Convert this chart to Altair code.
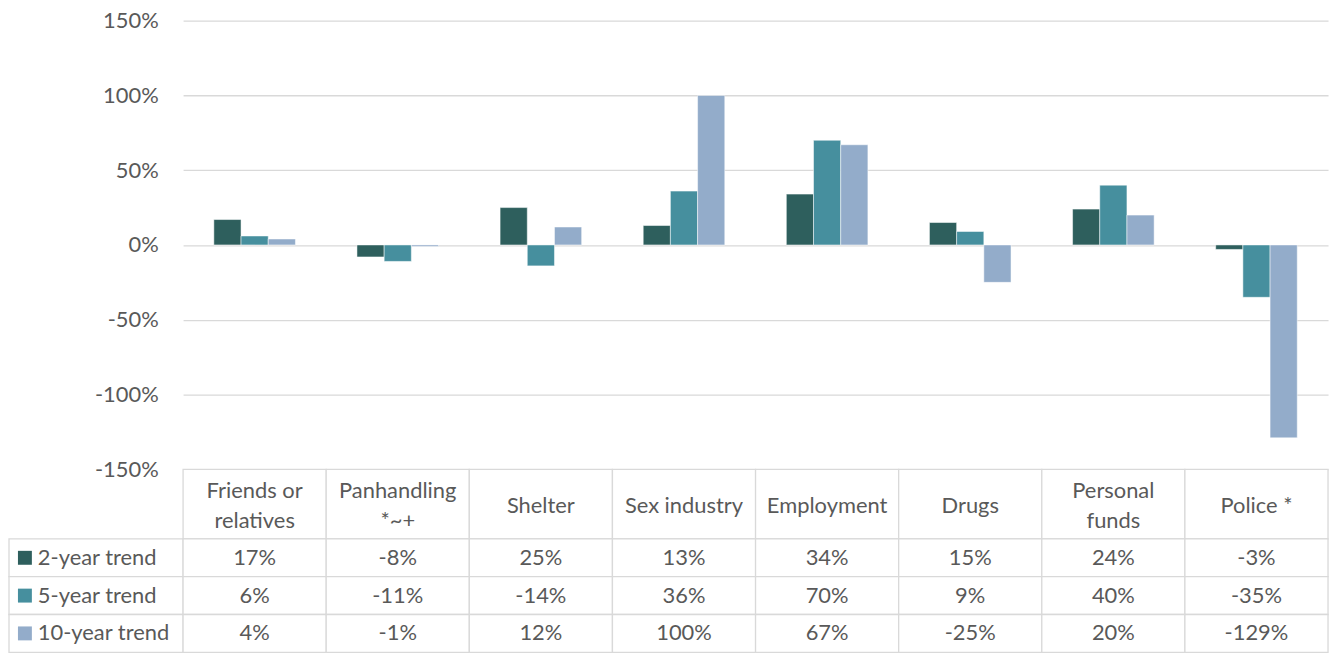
import altair as alt
import pandas as pd

categories = ["Friends or relatives", "Panhandling *~+", "Shelter", "Sex industry",
              "Employment", "Drugs", "Personal funds", "Police *"]
header_labels = ["Friends or\nrelatives", "Panhandling\n*~+", "Shelter", "Sex industry",
                 "Employment", "Drugs", "Personal\nfunds", "Police *"]
series = ["2-year trend", "5-year trend", "10-year trend"]
trend_2yr = [17, -8, 25, 13, 34, 15, 24, -3]
trend_5yr = [6, -11, -14, 36, 70, 9, 40, -35]
trend_10yr = [4, -1, 12, 100, 67, -25, 20, -129]
y_ticks = [-150, -100, -50, 0, 50, 100, 150]
colors = ["#2E5F5D", "#468F9E", "#93ACCA"]

rows = []
for s, vals in zip(series, [trend_2yr, trend_5yr, trend_10yr]):
    for c, v in zip(categories, vals):
        rows.append({"category": c, "series": s, "value": v})
df = pd.DataFrame(rows)
hdr_df = pd.DataFrame({"category": categories, "label": header_labels})
lbl_df = pd.DataFrame({"series": series})

FONT = "Lato"
TXT = "#595959"
GRID = "#d9d9d9"
PLOT_W = 1151
LEFT_W = 175
BAR_H = 451
HDR_H = 70
ROW_H = 38
FS = 22
LH = 30

color_scale = alt.Scale(domain=series, range=colors)
x_band = alt.Scale(domain=categories, paddingInner=0.43, paddingOuter=0.215)
x_cells = alt.Scale(domain=categories, paddingInner=0, paddingOuter=0)
y_rows = alt.Scale(domain=series, paddingInner=0, paddingOuter=0)

bars = alt.Chart(df).mark_bar(stroke="white", strokeWidth=0.5).encode(
    x=alt.X("category:N", scale=x_band, axis=None),
    xOffset=alt.XOffset("series:N", scale=alt.Scale(domain=series)),
    y=alt.Y("value:Q",
            scale=alt.Scale(domain=[-150, 150], nice=False, zero=False),
            axis=alt.Axis(values=y_ticks, labelExpr="datum.value + '%'", grid=True,
                          gridColor=GRID, gridWidth=1.3, domain=False, ticks=False,
                          labelPadding=25, labelFontSize=FS, labelColor=TXT,
                          labelFont=FONT, title=None)),
    color=alt.Color("series:N", scale=color_scale, legend=None),
).properties(width=PLOT_W, height=BAR_H)

spacer_top = alt.Chart(lbl_df).mark_point(opacity=0).properties(width=LEFT_W, height=BAR_H)
spacer_hdr = alt.Chart(lbl_df).mark_point(opacity=0).properties(width=LEFT_W, height=HDR_H)

hdr_cells = alt.Chart(hdr_df).mark_rect(fill="white", stroke=GRID, strokeWidth=1.3).encode(
    x=alt.X("category:N", scale=x_cells, axis=None))
hdr_one = alt.Chart(hdr_df).transform_filter(
    "indexof(datum.label, '\\n') < 0"
).mark_text(font=FONT, fontSize=FS, color=TXT, baseline="middle", dy=2).encode(
    x=alt.X("category:N", scale=x_cells, axis=None), text="label:N")
hdr_two = alt.Chart(hdr_df).transform_filter(
    "indexof(datum.label, '\\n') >= 0"
).mark_text(font=FONT, fontSize=FS, color=TXT, baseline="middle", lineBreak="\n",
            lineHeight=LH, dy=2 - LH / 2).encode(
    x=alt.X("category:N", scale=x_cells, axis=None), text="label:N")
header = alt.layer(hdr_cells, hdr_one, hdr_two).properties(width=PLOT_W, height=HDR_H)

lbl_cells = alt.Chart(lbl_df).mark_rect(fill="white", stroke=GRID, strokeWidth=1.3).encode(
    y=alt.Y("series:N", scale=y_rows, axis=None))
lbl_swatch = alt.Chart(lbl_df).mark_square(size=196, opacity=1).encode(
    x=alt.value(16), y=alt.Y("series:N", scale=y_rows, axis=None),
    color=alt.Color("series:N", scale=color_scale, legend=None))
lbl_text = alt.Chart(lbl_df).mark_text(font=FONT, fontSize=FS, color=TXT, align="left",
                                       baseline="middle").encode(
    x=alt.value(29), y=alt.Y("series:N", scale=y_rows, axis=None), text="series:N")
labels = alt.layer(lbl_cells, lbl_swatch, lbl_text).properties(width=LEFT_W, height=ROW_H * 3)

body_cells = alt.Chart(df).mark_rect(fill="white", stroke=GRID, strokeWidth=1.3).encode(
    x=alt.X("category:N", scale=x_cells, axis=None),
    y=alt.Y("series:N", scale=y_rows, axis=None))
body_text = alt.Chart(df).transform_calculate(
    label="datum.value + '%'"
).mark_text(font=FONT, fontSize=FS, color=TXT, baseline="middle").encode(
    x=alt.X("category:N", scale=x_cells, axis=None),
    y=alt.Y("series:N", scale=y_rows, axis=None),
    text="label:N")
body = alt.layer(body_cells, body_text).properties(width=PLOT_W, height=ROW_H * 3)

chart = alt.concat(
    spacer_top, bars, spacer_hdr, header, labels, body,
    columns=2, spacing=0, bounds="flush",
).configure_view(stroke=None).properties(
    padding={"left": 0, "top": 0, "right": 5, "bottom": 0})

chart.save("out.html", embed_options={"renderer": "svg", "actions": False})
